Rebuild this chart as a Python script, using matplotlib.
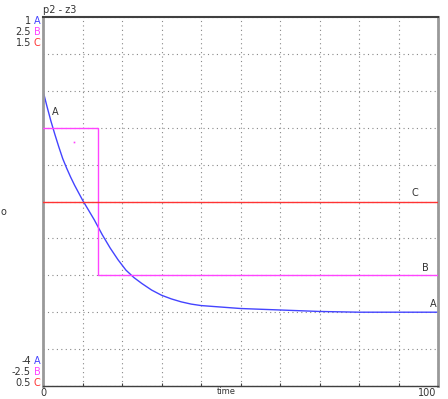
import matplotlib
matplotlib.use("Agg")
import matplotlib.pyplot as plt

plt.rcParams['font.family'] = ['Liberation Sans Narrow', 'DejaVu Sans']

# series A
t_a = [0, 1, 2, 3, 4, 5, 6, 7, 8, 9, 10, 11, 12, 13, 14, 15, 16, 17, 18, 19, 20,
       21, 22, 23, 24, 25, 27.5, 30, 32.5, 35, 37.5, 40, 45, 50, 55, 60, 70, 80, 100]
a_vals = [0, -0.21, -0.41, -0.59, -0.76, -0.92, -1.05, -1.17, -1.28, -1.38, -1.48,
          -1.57, -1.66, -1.75, -1.85, -1.95, -2.04, -2.13, -2.21, -2.29, -2.36,
          -2.43, -2.48, -2.53, -2.57, -2.61, -2.70, -2.77, -2.82, -2.86, -2.89,
          -2.91, -2.93, -2.95, -2.96, -2.97, -2.99, -3.0, -3.0]
# series B (step)
t_b = [0, 14, 14, 100]
b_vals = [1.0, 1.0, -1.0, -1.0]
# series C (constant)
t_c = [0, 100]
c_vals = [1.0, 1.0]

ranges = {'A': (-4, 1), 'B': (-2.5, 2.5), 'C': (0.5, 1.5)}
colors = {'A': '#4444ff', 'B': '#ff44ff', 'C': '#ff3333'}
top_labels = [('1', 'A'), ('2.5', 'B'), ('1.5', 'C')]
bot_labels = [('-4', 'A'), ('-2.5', 'B'), ('0.5', 'C')]

fig = plt.figure(figsize=(4.48, 3.99), dpi=100)
ax = fig.add_axes([43/448, 13/399, 395/448, 369/399])
ax.set_xlim(0, 100)
ax.set_ylim(*ranges['A'])
ax.set_xticks([10*i for i in range(11)])
ax.set_xticklabels([])
ax.set_yticks([-4 + 0.5*i for i in range(11)])
ax.set_yticklabels([])
ax.tick_params(axis='x', direction='in', length=2, color='#404040')
ax.tick_params(axis='y', length=0)
ax.grid(True, color='#888888', linestyle=(0, (1, 3)), linewidth=0.8)

for s in ['left', 'right']:
    ax.spines[s].set_color('#999999')
    ax.spines[s].set_linewidth(2)
ax.spines['top'].set_color('#404040')
ax.spines['top'].set_linewidth(1.5)
ax.spines['bottom'].set_color('#404040')
ax.spines['bottom'].set_linewidth(1)

ax.plot(t_a, a_vals, color=colors['A'], lw=1)

axb = ax.twinx()
axb.set_ylim(*ranges['B'])
axb.axis('off')
axb.plot(t_b, b_vals, color=colors['B'], lw=1)
axb.plot([7.8], [0.81], 's', color=colors['B'], ms=1.2, mew=0)

axc = ax.twinx()
axc.set_ylim(*ranges['C'])
axc.axis('off')
axc.plot(t_c, c_vals, color=colors['C'], lw=1)

fs = 7
ax.text(3, -0.35, 'A', fontsize=fs, color='#333333', ha='center', va='bottom')
ax.text(98.7, -2.95, 'A', fontsize=fs, color='#333333', ha='center', va='bottom')
axb.text(96.7, -0.97, 'B', fontsize=fs, color='#333333', ha='center', va='bottom')
axc.text(94.2, 1.01, 'C', fontsize=fs, color='#333333', ha='center', va='bottom')

# left scale labels
for i, (v, k) in enumerate(top_labels):
    y = 1 - (21 + 11*i)/399
    fig.text(31/448, y, v, fontsize=fs, color='#333333', ha='right', va='center')
    fig.text(34/448, y, k, fontsize=fs, color=colors[k], ha='left', va='center')
for i, (v, k) in enumerate(bot_labels):
    y = 1 - (361 + 11*i)/399
    fig.text(31/448, y, v, fontsize=fs, color='#333333', ha='right', va='center')
    fig.text(34/448, y, k, fontsize=fs, color=colors[k], ha='left', va='center')

fig.text(43/448, 1 - 10/399, 'p2 - z3', fontsize=fs, color='#333333', ha='left', va='center')
fig.text(43/448, 1 - 393/399, '0', fontsize=fs, color='#333333', ha='center', va='center')
fig.text(436/448, 1 - 393/399, '100', fontsize=fs, color='#333333', ha='right', va='center')
fig.text(226/448, 1 - 392/399, 'time', fontsize=6, color='#333333', ha='center', va='center')
fig.text(0.5/448, 1 - 212/399, 'o', fontsize=fs, color='#333333', ha='left', va='center')

fig.savefig('out.png', dpi=100, facecolor='white')
